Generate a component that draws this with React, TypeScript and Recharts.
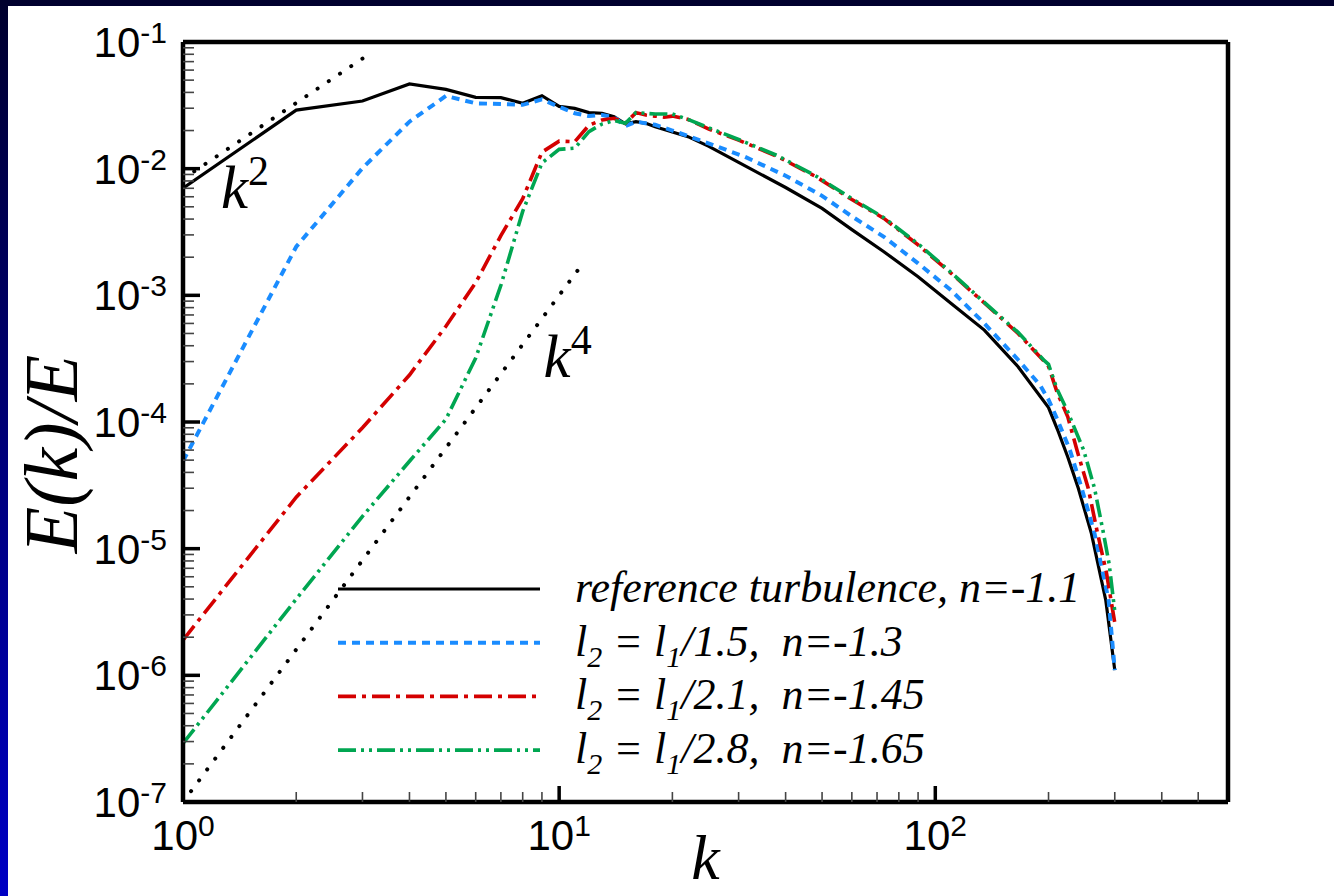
import React from "react";
import { LineChart, Line, XAxis, YAxis, Legend, ReferenceDot } from "recharts";

// E(k)/E, as [k, value]
const referenceTurb = [
  [1, 7.0e-3], [2, 2.9e-2], [3, 3.42e-2], [4, 4.66e-2], [5, 4.23e-2], [6, 3.66e-2],
  [7, 3.64e-2], [8, 3.28e-2], [9, 3.77e-2], [10, 3.1e-2], [11, 2.99e-2], [12, 2.77e-2],
  [13, 2.74e-2], [14, 2.57e-2], [15, 2.26e-2], [16, 2.35e-2], [17, 2.28e-2], [18, 2.14e-2],
  [20, 1.95e-2], [22, 1.79e-2], [25, 1.5e-2], [30, 1.12e-2], [40, 7.1e-3], [50, 4.85e-3],
  [60, 3.3e-3], [73, 2.21e-3], [90, 1.4e-3], [110, 8.65e-4], [135, 5.32e-4], [166, 2.73e-4],
  [200, 1.3e-4], [211, 8.8e-5], [225, 5.3e-5], [240, 3.0e-5], [260, 1.32e-5], [284, 3.9e-6],
  [300, 1.1e-6],
];
const l2over15 = [
  [1, 4.9e-5], [2, 2.42e-3], [3, 1.01e-2], [4, 2.35e-2], [5, 3.75e-2], [6, 3.28e-2],
  [7, 3.24e-2], [8, 3.19e-2], [9, 3.52e-2], [10, 3.08e-2], [11, 2.74e-2], [12, 2.6e-2],
  [13, 2.65e-2], [14, 2.55e-2], [15, 2.17e-2], [16, 2.35e-2], [18, 2.22e-2], [20, 2.0e-2],
  [24, 1.65e-2], [31, 1.25e-2], [40, 8.8e-3], [50, 6.1e-3], [60, 4.2e-3], [73, 2.9e-3],
  [90, 1.79e-3], [110, 1.1e-3], [135, 6.0e-4], [166, 3.1e-4], [190, 1.95e-4], [200, 1.5e-4],
  [211, 1.05e-4], [228, 6.0e-5], [245, 3.0e-5], [265, 1.32e-5], [289, 3.9e-6], [300, 1.1e-6],
];
const l2over21 = [
  [1, 1.9e-6], [2, 2.55e-5], [3, 9.0e-5], [4, 2.35e-4], [5, 5.7e-4], [6, 1.26e-3],
  [7, 2.96e-3], [8, 5.8e-3], [9, 1.35e-2], [10, 1.65e-2], [11, 1.63e-2], [12, 2.2e-2],
  [13, 2.42e-2], [14, 2.5e-2], [15, 2.28e-2], [16, 2.77e-2], [17, 2.65e-2], [18, 2.6e-2],
  [19, 2.55e-2], [20, 2.6e-2], [22, 2.45e-2], [25, 2.05e-2], [30, 1.68e-2], [38, 1.25e-2],
  [48, 8.7e-3], [60, 5.7e-3], [73, 4.05e-3], [90, 2.5e-3], [110, 1.5e-3], [135, 8.7e-4],
  [166, 5.0e-4], [195, 3.0e-4], [200, 2.75e-4], [211, 1.7e-4], [225, 1.1e-4], [238, 6.0e-5],
  [255, 3.0e-5], [270, 1.32e-5], [285, 6.5e-6], [300, 2.6e-6],
];
const l2over28 = [
  [1, 2.9e-7], [2, 4.0e-6], [3, 1.8e-5], [4, 4.9e-5], [5, 1.05e-4], [6, 3.2e-4],
  [7, 1.2e-3], [8, 4.6e-3], [9, 1.11e-2], [10, 1.42e-2], [11, 1.45e-2], [12, 1.96e-2],
  [13, 2.25e-2], [14, 2.4e-2], [15, 2.28e-2], [16, 2.77e-2], [18, 2.7e-2], [20, 2.7e-2],
  [22, 2.45e-2], [25, 2.1e-2], [30, 1.7e-2], [38, 1.27e-2], [48, 8.8e-3], [60, 5.8e-3],
  [73, 4.1e-3], [90, 2.55e-3], [110, 1.52e-3], [135, 8.8e-4], [166, 5.1e-4], [195, 3.05e-4],
  [200, 2.85e-4], [211, 1.8e-4], [225, 1.2e-4], [248, 6.0e-5], [265, 3.0e-5], [280, 1.32e-5],
  [290, 7.5e-6], [300, 3.2e-6],
];
// the two dotted slope guides
const slopeK2 = [[1, 8.3e-3], [3, 7.4e-2]];
const slopeK4 = [[1, 1.0e-7], [11.6, 1.81e-3]];

const xDecades = [1, 10, 100];
const xExponents = ["0", "1", "2"];
const yDecades = [1e-7, 1e-6, 1e-5, 1e-4, 1e-3, 1e-2, 1e-1];
const yExponents = ["-7", "-6", "-5", "-4", "-3", "-2", "-1"];
const minorSteps = [2, 3, 4, 5, 6, 7, 8, 9];

const SANS = "'Liberation Sans', Arial, sans-serif";
const SERIF = "'Liberation Serif', 'Times New Roman', serif";

const toPoints = (arr: number[][]) => arr.map(([k, e]) => ({ k, e }));

const xTicks = xDecades.flatMap((d) => [d, ...minorSteps.map((m) => m * d)]).filter((v) => v < 600);
const yTicks = yDecades.flatMap((d) => (d < 0.1 ? [d, ...minorSteps.map((m) => m * d)] : [d]));

const majorIndex = (v: number, decades: number[]) =>
  decades.findIndex((d) => Math.abs(v / d - 1) < 1e-6);

const series = [
  { key: "ref", data: referenceTurb, color: "#000000", width: 3.2, dash: undefined,
    label: [["reference turbulence, n=-1.1", false]] },
  { key: "15", data: l2over15, color: "#1a8cff", width: 4, dash: "8 6",
    label: [["l", false], ["2", true], [" = l", false], ["1", true], ["/1.5,  n=-1.3", false]] },
  { key: "21", data: l2over21, color: "#d40000", width: 3.6, dash: "18 6 4 6",
    label: [["l", false], ["2", true], [" = l", false], ["1", true], ["/2.1,  n=-1.45", false]] },
  { key: "28", data: l2over28, color: "#00a651", width: 3.6, dash: "18 5 3 5 3 5",
    label: [["l", false], ["2", true], [" = l", false], ["1", true], ["/2.8,  n=-1.65", false]] },
];

function YTick(props: any) {
  const { x, y, payload } = props;
  const i = majorIndex(payload.value, yDecades);
  const major = i >= 0;
  return (
    <g>
      <line x1={x} x2={x + (major ? 17 : 11)} y1={y} y2={y}
        stroke={major ? "#000" : "#444"} strokeWidth={major ? 3.5 : 1.6} />
      {major && (
        <text x={x - 16} y={y + 15} textAnchor="end" fontFamily={SANS} fontSize={42} fill="#000">
          10<tspan dy={-14} fontSize={30}>{yExponents[i]}</tspan>
        </text>
      )}
    </g>
  );
}

function XTick(props: any) {
  const { x, y, payload, top } = props;
  const i = majorIndex(payload.value, xDecades);
  const major = i >= 0;
  const len = major ? 16 : 10;
  const dir = top ? 1 : -1;
  return (
    <g>
      <line x1={x} x2={x} y1={y} y2={y + dir * len}
        stroke={major ? "#000" : "#444"} strokeWidth={major ? 3.5 : 1.6} />
      {major && !top && (
        <text x={x} y={y + 48} textAnchor="middle" fontFamily={SANS} fontSize={42} fill="#000">
          10<tspan dy={-14} fontSize={30}>{xExponents[i]}</tspan>
        </text>
      )}
    </g>
  );
}

function LegendBox() {
  return (
    <svg width={820} height={220} style={{ display: "block", overflow: "visible" }}>
      {series.map((s, r) => {
        const ly = 29 + r * 53.7;
        return (
          <g key={s.key}>
            <line x1={8} x2={210} y1={ly} y2={ly} stroke={s.color} strokeWidth={s.width}
              strokeDasharray={s.dash} />
            <text x={245} y={ly + 13} fontFamily={SERIF} fontStyle="italic" fontSize={44}
              fill="#000" style={{ whiteSpace: "pre" }}>
              {s.label.map(([t, sub], j) => {
                const prevSub = j > 0 && s.label[j - 1][1];
                const dy = sub ? 11 : prevSub ? -11 : 0;
                return (
                  <tspan key={j} dy={dy} fontSize={sub ? 30 : 44}>{t as string}</tspan>
                );
              })}
            </text>
          </g>
        );
      })}
    </svg>
  );
}

const powerLabel = (base: string, exp: string) => (p: any) => (
  <text x={p.cx} y={p.cy} fontFamily={SERIF} fontStyle="italic" fontSize={61} fill="#000">
    {base}<tspan dy={-23} fontSize={42} fontStyle="normal">{exp}</tspan>
  </text>
);

export default function App() {
  return (
    <div style={{ position: "absolute", left: 0, top: 0, width: 1334, height: 896,
      background: "linear-gradient(to bottom, #00002e, #0000c4)", overflow: "hidden" }}>
      <div style={{ position: "absolute", left: 8, top: 6, width: 1326, height: 890, background: "#fff" }} />
      <div style={{ position: "absolute", left: 0, top: 0 }}>
        <LineChart width={1334} height={896} margin={{ top: 0, right: 0, bottom: 0, left: 0 }}>
          <XAxis xAxisId="b" dataKey="k" type="number" scale="log" domain={[1, 600]}
            allowDataOverflow orientation="bottom" height={94} ticks={xTicks} interval={0}
            tickSize={0} tickMargin={0} tickLine={false}
            axisLine={{ stroke: "#000", strokeWidth: 4.5 }}
            tick={<XTick />}
            label={{ value: "k", position: "insideBottom", offset: 17, fill: "#000",
              fontSize: 64, fontStyle: "italic", fontFamily: SERIF }} />
          <XAxis xAxisId="t" type="number" scale="log" domain={[1, 600]} allowDataOverflow
            orientation="top" height={42} ticks={xTicks} interval={0}
            tickSize={0} tickMargin={0} tickLine={false}
            axisLine={{ stroke: "#000", strokeWidth: 4.5 }}
            tick={<XTick top />} />
          <YAxis yAxisId="l" type="number" scale="log" domain={[1e-7, 1e-1]} allowDataOverflow
            width={183} ticks={yTicks} interval={0} tickSize={0} tickMargin={0} tickLine={false}
            axisLine={{ stroke: "#000", strokeWidth: 4.5 }}
            tick={<YTick />}
            label={{
              content: (p: any) => {
                const vb = p.viewBox || { y: 42, height: 760 };
                const cy = vb.y + vb.height / 2 + 32;
                return (
                  <text transform={`translate(77, ${cy}) rotate(-90)`} textAnchor="middle"
                    fontFamily={SERIF} fontStyle="italic" fontSize={76} fill="#000">
                    E(k)/E
                  </text>
                );
              },
            }} />
          <YAxis yAxisId="r" orientation="right" type="number" scale="log" domain={[1e-7, 1e-1]}
            allowDataOverflow width={106} tick={false} tickLine={false}
            axisLine={{ stroke: "#000", strokeWidth: 4.5 }} />

          <Line xAxisId="b" yAxisId="l" data={toPoints(slopeK2)} dataKey="e" type="linear"
            stroke="#000" strokeWidth={4} strokeDasharray="0.1 13.4" strokeLinecap="round"
            dot={false} isAnimationActive={false} legendType="none" />
          <Line xAxisId="b" yAxisId="l" data={toPoints(slopeK4)} dataKey="e" type="linear"
            stroke="#000" strokeWidth={4} strokeDasharray="0.1 13.4" strokeLinecap="round"
            dot={false} isAnimationActive={false} legendType="none" />
          {series.map((s) => (
            <Line key={s.key} xAxisId="b" yAxisId="l" data={toPoints(s.data)} dataKey="e"
              type="linear" stroke={s.color} strokeWidth={s.width} strokeDasharray={s.dash}
              dot={false} isAnimationActive={false} />
          ))}

          <ReferenceDot xAxisId="b" yAxisId="l" x={1.262} y={4.89e-3} r={0} ifOverflow="visible"
            shape={powerLabel("k", "2")} />
          <ReferenceDot xAxisId="b" yAxisId="l" x={9.09} y={2.28e-4} r={0} ifOverflow="visible"
            shape={powerLabel("k", "4")} />

          <Legend layout="vertical" align="center" verticalAlign="middle"
            wrapperStyle={{ left: 330, top: 560, width: 820, height: 220 }}
            content={() => <LegendBox />} />
        </LineChart>
      </div>
    </div>
  );
}
